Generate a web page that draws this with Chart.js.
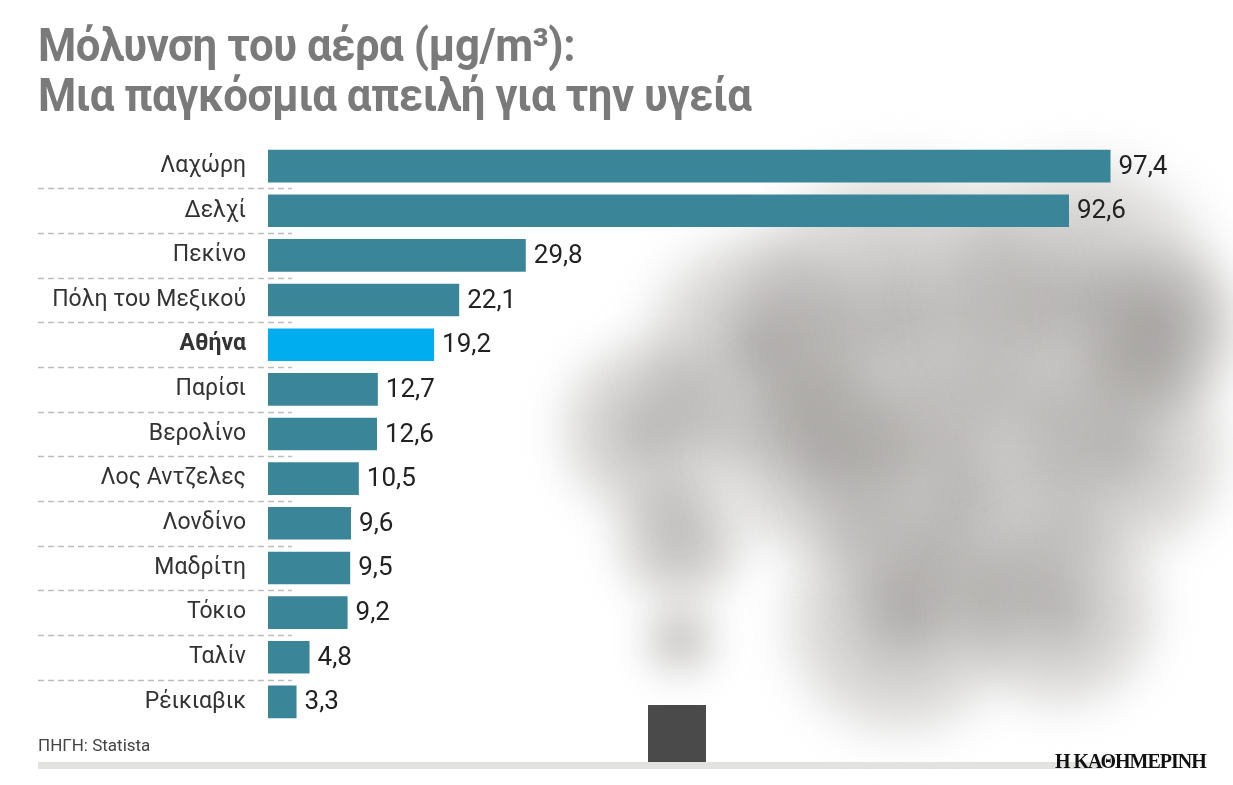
<!DOCTYPE html>
<html>
<head>
<meta charset="utf-8">
<script src="https://cdn.jsdelivr.net/npm/chart.js@4"></script>
<style>
  body { margin:0; width:1233px; height:785px; background:#fff; position:relative; overflow:hidden;
         font-family:'Roboto',sans-serif; }
  #smoke { position:absolute; left:0; top:0; }
  #chart { position:absolute; left:0; top:116px; }
  .title { position:absolute; left:38px; color:#7a7a7a; font-weight:bold; font-size:46px; letter-spacing:-0.5px;
           transform:scaleX(0.95); transform-origin:left top; white-space:nowrap; }
  #src { position:absolute; left:38px; top:735px; font-size:17px; color:#444; }
  #rule { position:absolute; left:38px; top:762px; width:1065px; height:7px; background:#e2e2e0; }
  #brand { position:absolute; left:1055px; top:750px; font-size:20px; font-weight:bold; color:#111; font-family:'Liberation Serif',serif; letter-spacing:-1px; }
</style>
</head>
<body>
<canvas id="smoke" width="1233" height="785"></canvas>
<div class="title" style="top:18px">Μόλυνση του αέρα (μg/m³):</div>
<div class="title" style="top:68px">Μια παγκόσμια απειλή για την υγεία</div>
<canvas id="chart" width="1233" height="636"></canvas>
<div id="src">ΠΗΓΗ: Statista</div>
<div id="rule"></div>
<div id="brand">Η ΚΑΘΗΜΕΡΙΝΗ</div>
<script>
var cities = ["Λαχώρη", "Δελχί", "Πεκίνο", "Πόλη του Μεξικού", "Αθήνα", "Παρίσι", "Βερολίνο",
  "Λος Αντζελες", "Λονδίνο", "Μαδρίτη", "Τόκιο", "Ταλίν", "Ρέικιαβικ"];
var pm = [97.4, 92.6, 29.8, 22.1, 19.2, 12.7, 12.6, 10.5, 9.6, 9.5, 9.2, 4.8, 3.3];
var highlight = "Αθήνα";

// rough smoke backdrop instead of the photo
(function () {
  var c = document.getElementById("smoke").getContext("2d");
  c.filter = "blur(18px)";
  var blobs = [[900,320,190],[1080,300,170],[760,350,140],[650,430,110],[680,540,80],[960,500,170],
    [1120,450,130],[900,620,140],[1060,610,120],[680,640,45],[1160,330,100],[820,460,120]];
  blobs.forEach(function (b) {
    var g = c.createRadialGradient(b[0], b[1], 0, b[0], b[1], b[2]);
    g.addColorStop(0, "rgba(90,86,82,0.45)");
    g.addColorStop(0.7, "rgba(140,136,132,0.25)");
    g.addColorStop(1, "rgba(220,220,220,0)");
    c.fillStyle = g;
    c.beginPath(); c.arc(b[0], b[1], b[2], 0, Math.PI * 2); c.fill();
  });
  c.filter = "none";
  c.fillStyle = "#4a4a4a";
  c.fillRect(648, 705, 58, 58);
})();

var labelPlugin = {
  id: "labels",
  afterDatasetsDraw: function (chart) {
    var ctx = chart.ctx;
    var meta = chart.getDatasetMeta(0);
    var ys = chart.scales.y;
    ctx.save();
    ctx.font = "26px Roboto, sans-serif";
    ctx.fillStyle = "#222";
    ctx.textBaseline = "middle";
    meta.data.forEach(function (bar, i) {
      ctx.fillText(pm[i].toFixed(1).replace(".", ","), bar.x + 8, bar.y + 1);
    });
    ctx.strokeStyle = "#bdbdbd";
    ctx.lineWidth = 1.3;
    ctx.setLineDash([6, 4]);
    for (var i = 0; i < cities.length - 1; i++) {
      var y = Math.round((ys.getPixelForValue(i) + ys.getPixelForValue(i + 1)) / 2) + 0.5;
      ctx.beginPath(); ctx.moveTo(38, y); ctx.lineTo(292, y); ctx.stroke();
    }
    ctx.restore();
  }
};

new Chart(document.getElementById("chart"), {
  type: "bar",
  plugins: [labelPlugin],
  data: {
    labels: cities,
    datasets: [{
      data: pm,
      backgroundColor: cities.map(function (c) { return c === highlight ? "#00aeef" : "#3a8597"; }),
      barPercentage: 0.73,
      categoryPercentage: 1
    }]
  },
  options: {
    indexAxis: "y",
    responsive: false,
    animation: false,
    layout: { padding: { right: 100 } },
    plugins: { legend: { display: false }, tooltip: { enabled: false } },
    scales: {
      x: { display: false, min: 0, max: 100 },
      y: {
        grid: { display: false },
        border: { display: false },
        afterFit: function (s) { s.width = 268; },
        ticks: {
          padding: 14,
          color: "#333",
          font: function (ctx) {
            var bold = cities[ctx.index] === highlight;
            return { family: "Roboto, sans-serif", size: 23, weight: bold ? "bold" : "normal" };
          }
        }
      }
    }
  }
});
</script>
</body>
</html>
